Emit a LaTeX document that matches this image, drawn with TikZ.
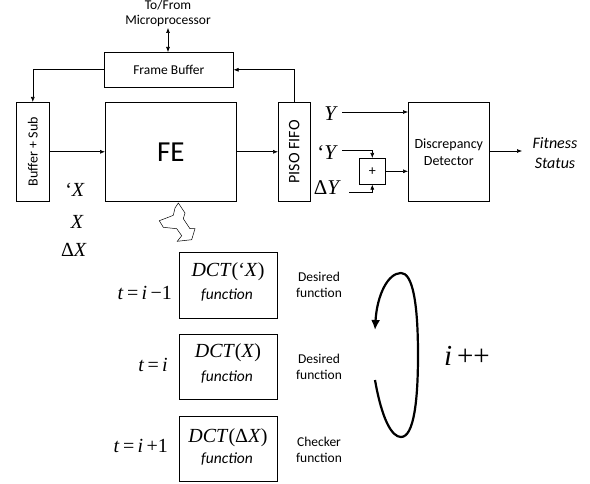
\documentclass[tikz,border=0pt]{standalone}
\usepackage{fontspec}
\setmainfont{Carlito}
\newfontfamily\tnr{Liberation Serif}
\usetikzlibrary{arrows.meta}
\tikzset{
  blk/.style={draw, line width=0.6pt, inner sep=0pt, anchor=north west},
  conn/.style={draw, line width=0.6pt, -{Latex[length=5pt,width=4pt]}},
  lbl/.style={inner sep=0pt, font=\fontsize{13.5}{16}\selectfont},
  mth/.style={inner sep=0pt, font=\tnr\fontsize{21}{24}\selectfont},
  side/.style={inner sep=0pt, align=center, font=\fontsize{13.5}{16}\selectfont},
  fn/.style={inner sep=0pt, font=\itshape\fontsize{15.5}{18}\selectfont},
  dct/.style={inner sep=0pt, font=\tnr\fontsize{20}{22}\selectfont},
}
\newcommand{\mi}[1]{\textit{#1}}
\begin{document}
\begin{tikzpicture}[x=1pt,y=-1pt]
\useasboundingbox (0,0) rectangle (590,484);
% top text
\node[lbl, align=center, font=\fontsize{13.5}{15}\selectfont] (mp) at (168,13.5) {To/From\\Microprocessor};
% boxes
\node[blk, minimum width=129pt, minimum height=35pt] (fb) at (104,52) {};
\node[lbl] at (fb.center) {Frame Buffer};
\node[blk, minimum width=33pt, minimum height=99pt] (bs) at (16,102) {};
\node[lbl, rotate=90, font=\fontsize{14}{16}\selectfont] at (bs.center) {Buffer + Sub};
\node[blk, minimum width=131pt, minimum height=99pt] (fe) at (105,102) {};
\node[inner sep=0pt, font=\fontsize{29}{32}\selectfont] at (fe.center) {FE};
\node[blk, minimum width=32pt, minimum height=99pt] (pf) at (278,102) {};
\node[lbl, rotate=90, font=\fontsize{16}{18}\selectfont] at (pf.center) {PISO FIFO};
\node[blk, minimum width=81pt, minimum height=99pt] (dd) at (408,102) {};
\node[lbl, align=center, font=\fontsize{14}{17}\selectfont] at (dd.center) {Discrepancy\\Detector};
\node[blk, minimum width=26pt, minimum height=26pt] (pl) at (359,158) {};
\node[lbl, font=\fontsize{14}{16}\selectfont] at (pl.center) {+};
% output label
\node[lbl, align=center, font=\itshape\fontsize{16}{20}\selectfont] (fs) at (555,153) {Fitness\\Status};
% Y labels
\node[mth, anchor=east] (y1) at (338,114) {\mi{Y}};
\node[mth, anchor=east] (y2) at (338,153) {‘\mi{Y}};
\node[mth, anchor=east] (y3) at (341,188) {Δ\mi{Y}};
% X labels
\node[mth, anchor=east, font=\tnr\fontsize{20}{24}\selectfont] (x1) at (85,190) {‘\mi{X}};
\node[mth, anchor=east, font=\tnr\fontsize{20}{24}\selectfont] (x2) at (84,222) {\mi{X}};
\node[mth, anchor=east, font=\tnr\fontsize{20}{24}\selectfont] (x3) at (87,250) {Δ\mi{X}};
% connectors
\coordinate (mptop) at (168,28);
\draw[line width=0.6pt, {Latex[length=5pt,width=4pt]}-{Latex[length=5pt,width=4pt]}] (mptop) -- (fb.north -| mptop);
\draw[conn] (fb.west) -| (bs.north);
\draw[conn] (pf.north) |- (fb.east);
\draw[conn] (bs.east) -- (fe.west);
\draw[conn] (fe.east) -- (pf.west);
\coordinate (ya) at (342,112);
\draw[conn] (ya) -- (ya -| dd.west);
\coordinate (yb) at (342,150);
\draw[conn] (yb) -| (pl.north);
\coordinate (yc) at (349,192);
\draw[conn] (yc) -| (pl.south);
\draw[conn] (pl.east) -- (pl.east -| dd.west);
\coordinate (fo) at (522,151);
\draw[conn] (dd.east |- fo) -- (fo);
% zigzag arrow
\draw[line width=0.5pt, fill=white] (178.3,203) -- (185,213) -- (183.3,218.7) -- (190,228.7) -- (195,228.7) -- (191.7,239.7) -- (177.3,241.3) -- (181.7,235.7) -- (176.7,228.7) -- (163.3,227.3) -- (159.3,220.7) -- (168.3,217.3) -- (173.3,215.3) -- (175,208) -- cycle;
% DCT boxes
\node[blk, minimum width=98pt, minimum height=66pt] (d1) at (179,252) {};
\node[blk, minimum width=98pt, minimum height=65pt] (d2) at (179,334) {};
\node[blk, minimum width=98pt, minimum height=65pt] (d3) at (179,416) {};
\node[dct] at (228,272) {\mi{DCT}(‘\mi{X})};
\node[fn] at (227,295) {function};
\node[dct] at (228,353) {\mi{DCT}(\mi{X})};
\node[fn] at (227,377) {function};
\node[dct] at (228,438) {\mi{DCT}(Δ\mi{X})};
\node[fn] at (227,459) {function};
% t labels
\node[mth, anchor=east, font=\tnr\fontsize{20}{24}\selectfont] (t1) at (172,293) {\mi{t}\,=\,\mi{i}\,−1};
\node[mth, anchor=east, font=\tnr\fontsize{20}{24}\selectfont] (t2) at (168,365) {\mi{t}\,=\,\mi{i}};
\node[mth, anchor=east, font=\tnr\fontsize{20}{24}\selectfont] (t3) at (168,446) {\mi{t}\,=\,\mi{i}\,+1};
% right labels
\node[side] at (319,285) {Desired\\function};
\node[side] at (319,367) {Desired\\function};
\node[side] at (319,450) {Checker\\function};
% loop
\coordinate (ls) at (375,380);
\coordinate (le) at (375,330);
\draw[line width=2.2pt, -{Latex[length=10pt,width=9pt]}] (ls) .. controls (382,420) and (392,437) .. (401,437) .. controls (414,437) and (418,400) .. (418,355) .. controls (418,300) and (412,273) .. (401,273) .. controls (388,273) and (377,295) .. (le);
\node[inner sep=0pt, font=\tnr\fontsize{29}{32}\selectfont] (ipp) at (467,356) {\mi{i}\,++};
\end{tikzpicture}
\end{document}
